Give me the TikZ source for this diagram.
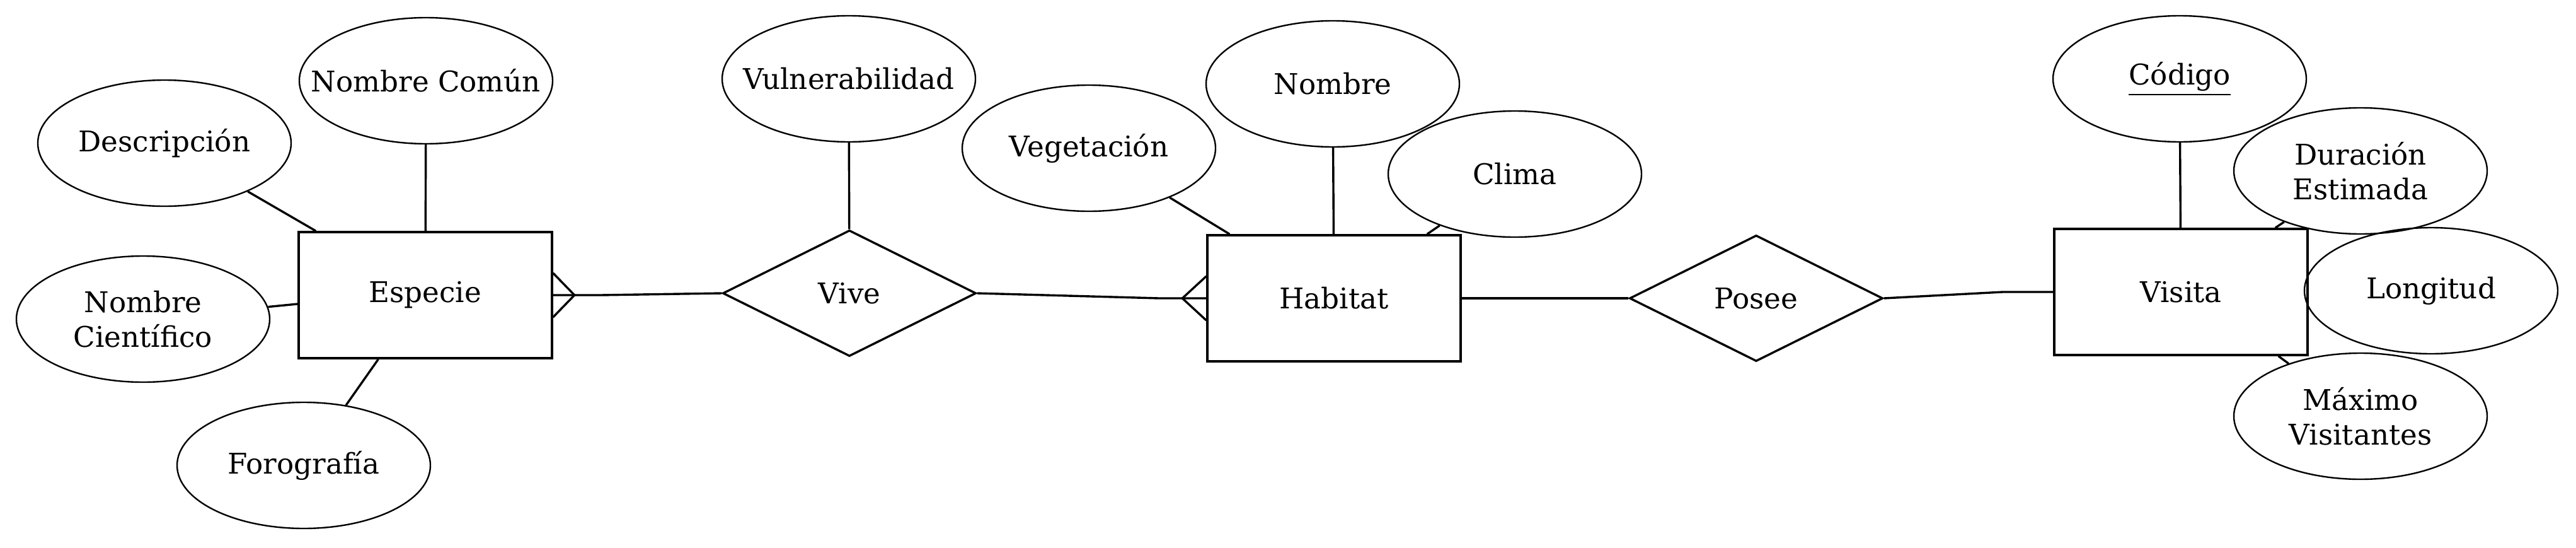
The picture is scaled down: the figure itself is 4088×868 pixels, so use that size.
\documentclass[tikz,border=0pt]{standalone}
\usepackage{fontspec}
\setmainfont{DejaVu Serif}
\usetikzlibrary{shapes.geometric,calc}
\begin{document}
\begin{tikzpicture}[x=0.25pt,y=-0.25pt,
  lbl/.style={font=\fontsize{11.3pt}{13.8pt}\selectfont},
  attr/.style={lbl,ellipse,draw,line width=0.6pt,minimum width=100.5pt,minimum height=50pt,inner xsep=-14pt,inner ysep=0pt,align=center},
  ent/.style={lbl,rectangle,draw,line width=0.85pt,minimum width=100.5pt,minimum height=50pt,inner sep=0pt},
  rel/.style={lbl,diamond,draw,line width=0.85pt,minimum width=100.5pt,minimum height=50pt,inner sep=0pt},
  conn/.style={line width=0.85pt},
]
\useasboundingbox (0,0) rectangle (4088,868);

% Especie
\node[ent] (esp) at (675,468) {Especie};
\node[attr] (desc) at (261,227) {Descripción};
\node[attr] (ncom) at (676,128) {Nombre Común};
\node[attr] (ncie) at (227,506) {Nombre\\Científico};
\node[attr] (foto) at (482,738) {Forografía};

% Vive
\node[rel] (vive) at (1348,465) {Vive};
\node[attr] (vul) at (1347,125) {Vulnerabilidad};

% Habitat
\node[ent] (hab) at (2117,473) {Habitat};
\node[attr] (veg) at (1728,235) {Vegetación};
\node[attr] (nom) at (2115,133) {Nombre};
\node[attr] (cli) at (2404,276) {Clima};

% Posee
\node[rel] (pos) at (2787,473) {Posee};

% Visita
\node[ent] (vis) at (3461,463) {Visita};
\node[attr] (cod) at (3459,125) {\underline{Código}};
\node[attr] (dur) at (3746,271) {Duración\\Estimada};
\node[attr] (lon) at (3858,461) {Longitud};
\node[attr] (max) at (3746,660) {Máximo\\Visitantes};

% attribute connectors
\coordinate (espd) at ($(esp.north west)+(29,0)$);
\coordinate (espc) at ($(esp.west)+(0,14)$);
\coordinate (espf) at ($(esp.south west)+(128,0)$);
\draw[conn] (desc) -- (espd);
\draw[conn] (ncom) -- (esp);
\draw[conn] (ncie) -- (espc);
\draw[conn] (foto) -- (espf);
\draw[conn] (vul) -- (vive);
\coordinate (habv) at ($(hab.north west)+(37,0)$);
\coordinate (habc) at ($(hab.north east)+(-55,0)$);
\draw[conn] (veg) -- (habv);
\draw[conn] (nom) -- (hab);
\draw[conn] (cli) -- (habc);
\coordinate (visd) at ($(vis.north east)+(-53,0)$);
\coordinate (vism) at ($(vis.south east)+(-48,0)$);
\draw[conn] (cod) -- (vis);
\draw[conn] (dur) -- (visd);
\draw[conn] (max) -- (vism);

% relationship connectors
\coordinate (espft) at ($(esp.east)+(34,0)$);
\draw[conn] (esp.east) -- ++(75,0) -- (vive.west);
\draw[conn] ($(esp.east)+(0,-35)$) -- (espft) -- ($(esp.east)+(0,35)$);
\coordinate (habft) at ($(hab.west)+(-38,0)$);
\draw[conn] (vive.east) -- ($(hab.west)+(-75,0)$) -- (hab.west);
\draw[conn] ($(hab.west)+(0,-35)$) -- (habft) -- ($(hab.west)+(0,35)$);
\draw[conn] (hab.east) -- ++(60,0) -- (pos.west);
\draw[conn] (pos.east) -- ($(vis.west)+(-80,0)$) -- (vis.west);
\end{tikzpicture}
\end{document}
